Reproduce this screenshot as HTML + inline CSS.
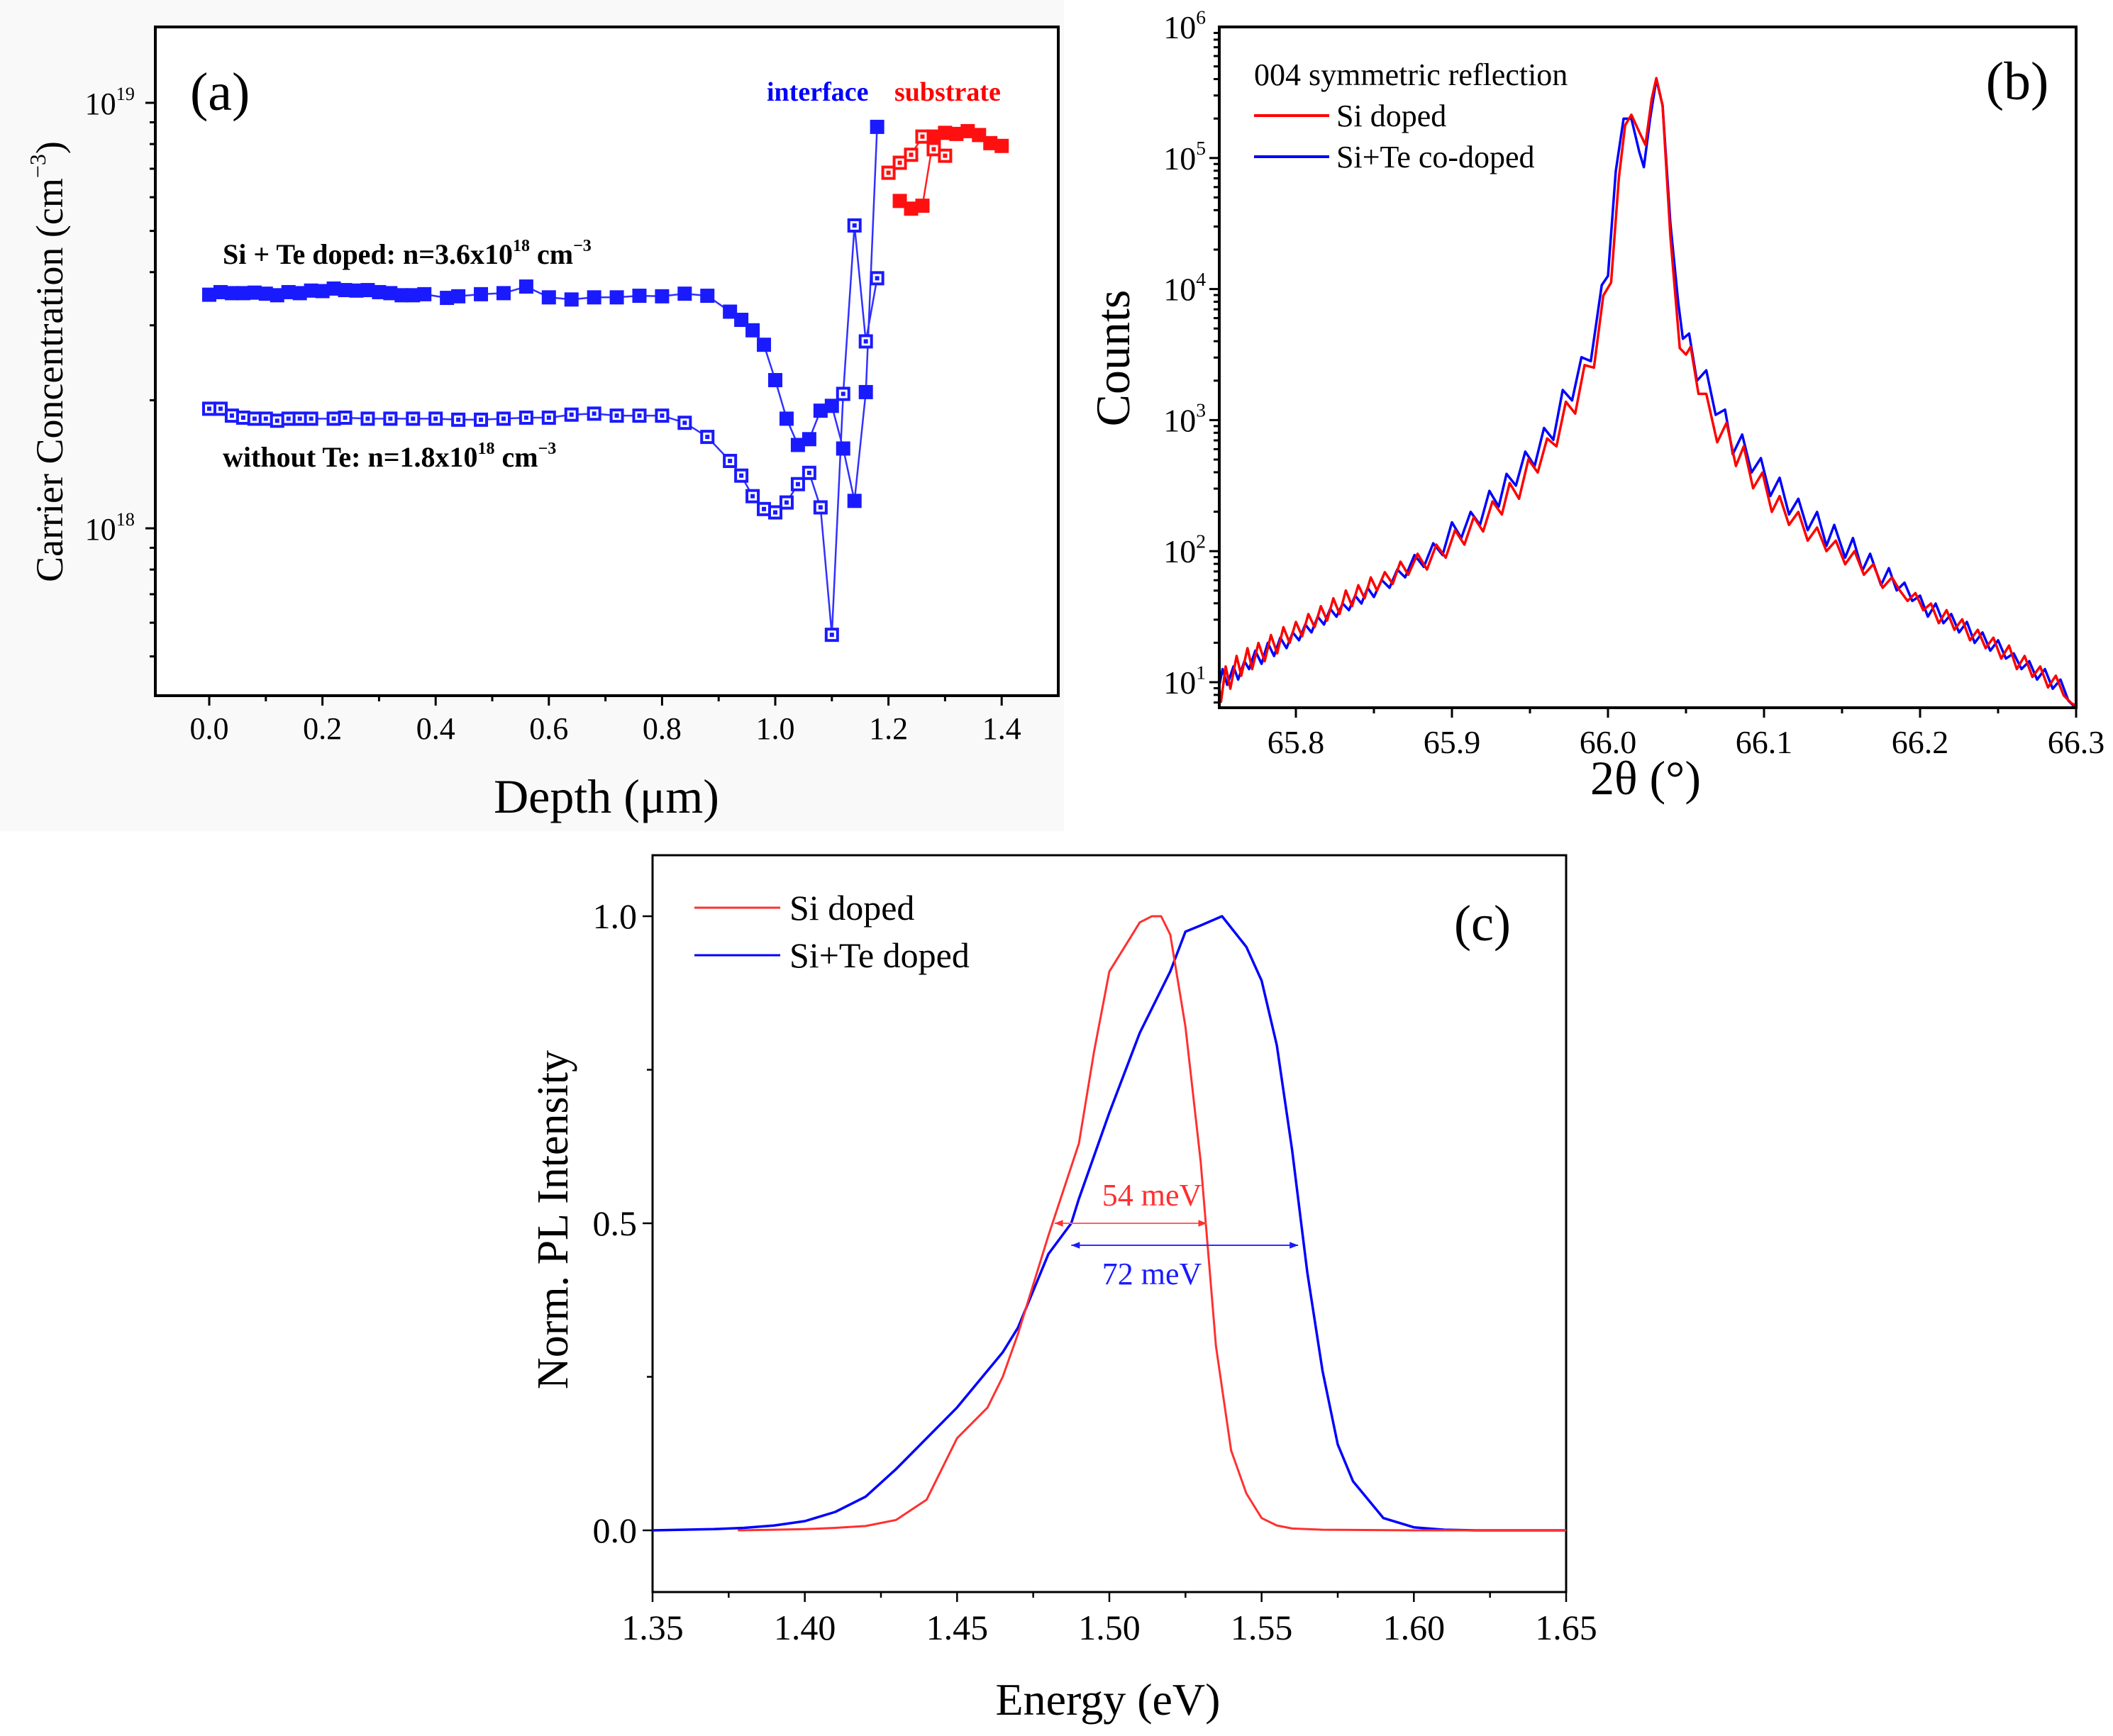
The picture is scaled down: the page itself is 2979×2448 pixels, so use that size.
<!DOCTYPE html>
<html><head><meta charset="utf-8"><style>
html,body{margin:0;padding:0;background:#fff;}
svg{display:block;font-family:"Liberation Serif",serif;}
svg text, svg tspan{font-family:"Liberation Serif","Times New Roman",serif;}
</style></head><body>
<svg id="chart" width="2979" height="2448" viewBox="0 0 2979 2448" xmlns="http://www.w3.org/2000/svg">
<rect x="0" y="0" width="2979" height="2448" fill="#fff"/>
<rect x="0" y="0" width="1500" height="1172" fill="#f9f9f9"/>
</svg>
<script>
// ---------- Panel (a) data (carrier concentration, units of 1e18 cm^-3) ----------
const aFilledBlueX = [0,0.02,0.04,0.06,0.08,0.1,0.12,0.14,0.16,0.18,0.2,0.22,0.24,0.26,0.28,0.3,0.32,0.34,0.36,0.38,0.42,0.44,0.48,0.52,0.56,0.6,0.64,0.68,0.72,0.76,0.8,0.84,0.88,0.92,0.94,0.96,0.98,1.0,1.02,1.04,1.06,1.08,1.1,1.12,1.14,1.16,1.18];
const aFilledBlueY = [3.54,3.59,3.57,3.57,3.58,3.56,3.53,3.59,3.57,3.62,3.61,3.66,3.63,3.62,3.63,3.59,3.57,3.53,3.53,3.55,3.48,3.51,3.55,3.57,3.70,3.49,3.45,3.49,3.49,3.52,3.51,3.56,3.52,3.23,3.09,2.92,2.70,2.23,1.81,1.57,1.62,1.89,1.94,1.54,1.16,2.09,8.78];
const aFilledRedX = [1.22,1.24,1.26,1.28,1.3,1.32,1.34,1.36,1.38,1.4];
const aFilledRedY = [5.88,5.64,5.73,8.33,8.50,8.45,8.58,8.40,8.04,7.92];
const aOpenBlueX = [0,0.02,0.04,0.06,0.08,0.1,0.12,0.14,0.16,0.18,0.22,0.24,0.28,0.32,0.36,0.4,0.44,0.48,0.52,0.56,0.6,0.64,0.68,0.72,0.76,0.8,0.84,0.88,0.92,0.94,0.96,0.98,1.0,1.02,1.04,1.06,1.08,1.1,1.12,1.14,1.16,1.18];
const aOpenBlueY = [1.91,1.91,1.84,1.82,1.81,1.81,1.79,1.81,1.81,1.81,1.81,1.82,1.81,1.81,1.81,1.81,1.80,1.80,1.81,1.82,1.82,1.85,1.86,1.84,1.84,1.84,1.77,1.64,1.44,1.33,1.19,1.11,1.09,1.15,1.27,1.35,1.12,0.562,2.07,5.15,2.75,3.87];
const aOpenRedX = [1.2,1.22,1.24,1.26,1.28,1.3];
const aOpenRedY = [6.85,7.23,7.55,8.33,7.78,7.51];
const aXTicks = [0,0.2,0.4,0.6,0.8,1.0,1.2,1.4];
const aXTickLabels = ["0.0","0.2","0.4","0.6","0.8","1.0","1.2","1.4"];

// ---------- Panel (b) data (2theta, log10 counts) ----------
const bBlueX = [65.75,65.753,65.756,65.76,65.763,65.767,65.77,65.774,65.778,65.782,65.786,65.79,65.794,65.798,65.802,65.806,65.81,65.814,65.818,65.822,65.826,65.83,65.834,65.838,65.842,65.846,65.85,65.855,65.86,65.865,65.87,65.876,65.882,65.888,65.894,65.9,65.906,65.912,65.918,65.924,65.93,65.935,65.941,65.947,65.953,65.959,65.965,65.971,65.977,65.983,65.989,65.996,66.0,66.005,66.01,66.015,66.02,66.023,66.027,66.031,66.035,66.04,66.045,66.048,66.052,66.057,66.063,66.069,66.075,66.08,66.086,66.092,66.098,66.104,66.11,66.116,66.122,66.128,66.134,66.14,66.145,66.152,66.157,66.163,66.168,66.175,66.18,66.185,66.19,66.195,66.2,66.205,66.21,66.215,66.22,66.225,66.23,66.235,66.24,66.245,66.25,66.255,66.26,66.265,66.27,66.275,66.28,66.285,66.29,66.295,66.3];
const bBlueY = [0.92,1.1,0.98,1.12,1.02,1.16,1.1,1.24,1.14,1.3,1.2,1.34,1.26,1.38,1.32,1.44,1.38,1.5,1.44,1.56,1.5,1.6,1.55,1.66,1.6,1.72,1.65,1.78,1.72,1.86,1.8,1.97,1.88,2.06,1.97,2.22,2.1,2.3,2.2,2.46,2.34,2.59,2.5,2.76,2.65,2.94,2.85,3.23,3.15,3.48,3.45,4.03,4.1,4.9,5.3,5.3,5.05,4.93,5.3,5.6,5.4,4.5,3.9,3.62,3.66,3.3,3.38,3.04,3.08,2.74,2.89,2.6,2.71,2.42,2.56,2.28,2.4,2.16,2.3,2.04,2.2,1.95,2.1,1.85,1.98,1.74,1.87,1.7,1.76,1.62,1.66,1.5,1.6,1.45,1.52,1.38,1.46,1.3,1.38,1.24,1.32,1.18,1.22,1.1,1.16,1.02,1.1,0.95,1.02,0.86,0.8];
const bRedX = [65.75,65.752,65.755,65.758,65.762,65.765,65.769,65.772,65.776,65.78,65.784,65.788,65.792,65.796,65.8,65.804,65.808,65.812,65.816,65.82,65.824,65.828,65.832,65.836,65.84,65.844,65.848,65.852,65.857,65.862,65.867,65.872,65.878,65.884,65.89,65.896,65.902,65.908,65.914,65.92,65.926,65.932,65.937,65.943,65.949,65.955,65.961,65.967,65.973,65.979,65.985,65.991,65.997,66.002,66.007,66.011,66.015,66.02,66.024,66.028,66.031,66.035,66.04,66.046,66.05,66.053,66.058,66.063,66.07,66.076,66.082,66.087,66.093,66.099,66.105,66.11,66.116,66.122,66.128,66.134,66.14,66.146,66.152,66.158,66.164,66.17,66.176,66.182,66.187,66.192,66.197,66.202,66.207,66.212,66.217,66.222,66.227,66.232,66.237,66.242,66.247,66.252,66.257,66.262,66.267,66.272,66.277,66.282,66.287,66.292,66.297,66.3];
const bRedY = [1.05,0.85,1.12,0.95,1.2,1.05,1.26,1.1,1.3,1.16,1.36,1.22,1.42,1.3,1.46,1.35,1.52,1.42,1.58,1.47,1.64,1.52,1.7,1.58,1.74,1.64,1.8,1.7,1.84,1.75,1.92,1.82,1.98,1.86,2.05,1.95,2.16,2.05,2.26,2.15,2.38,2.28,2.52,2.4,2.7,2.6,2.86,2.8,3.14,3.05,3.42,3.4,3.95,4.05,4.85,5.25,5.33,5.2,5.1,5.45,5.61,5.4,4.4,3.55,3.5,3.56,3.2,3.2,2.83,2.98,2.65,2.8,2.48,2.6,2.3,2.42,2.2,2.3,2.08,2.18,2.0,2.08,1.9,2.0,1.82,1.9,1.72,1.8,1.7,1.62,1.68,1.55,1.6,1.45,1.55,1.4,1.48,1.32,1.4,1.26,1.34,1.18,1.28,1.1,1.2,1.04,1.12,0.96,1.05,0.9,0.84,0.82];
const bXTicks = [65.8,65.9,66.0,66.1,66.2,66.3];
const bXTickLabels = ["65.8","65.9","66.0","66.1","66.2","66.3"];
const bYDecades = [1,2,3,4,5,6];

// ---------- Panel (c) data (energy eV, normalized PL) ----------
const cRedX = [1.378,1.39,1.40,1.41,1.42,1.43,1.44,1.45,1.46,1.465,1.47,1.48,1.49,1.495,1.50,1.505,1.51,1.514,1.517,1.52,1.525,1.53,1.535,1.54,1.545,1.55,1.555,1.56,1.57,1.60,1.65];
const cRedY = [0,0.001,0.002,0.004,0.007,0.017,0.05,0.15,0.2,0.25,0.32,0.48,0.63,0.78,0.91,0.95,0.99,1.0,1.0,0.97,0.82,0.60,0.30,0.13,0.06,0.02,0.008,0.003,0.001,0,0];
const cBlueX = [1.35,1.37,1.38,1.39,1.40,1.41,1.42,1.43,1.44,1.45,1.455,1.465,1.47,1.48,1.4875,1.49,1.50,1.51,1.52,1.525,1.53,1.537,1.545,1.55,1.555,1.56,1.565,1.57,1.575,1.58,1.59,1.60,1.61,1.62,1.65];
const cBlueY = [0,0.002,0.004,0.008,0.015,0.03,0.055,0.1,0.15,0.2,0.23,0.29,0.33,0.45,0.5,0.54,0.68,0.81,0.91,0.975,0.985,1.0,0.95,0.895,0.79,0.62,0.42,0.26,0.14,0.08,0.02,0.005,0.001,0,0];
const cXTicks = [1.35,1.40,1.45,1.50,1.55,1.60,1.65];
const cXTickLabels = ["1.35","1.40","1.45","1.50","1.55","1.60","1.65"];
const cYTicks = [0,0.5,1.0];
const cYTickLabels = ["0.0","0.5","1.0"];

const NS = "http://www.w3.org/2000/svg";
const svg = document.getElementById('chart');
function mk(tag, attrs, parent){
  const e = document.createElementNS(NS, tag);
  for (const k in attrs) e.setAttribute(k, attrs[k]);
  (parent || svg).appendChild(e);
  return e;
}
function txt(str, x, y, size, anchor, fill, weight){
  const t = mk('text', {x:x, y:y, 'font-size':size, 'text-anchor':anchor||'start', fill:fill||'#000', 'font-weight':weight||'normal'});
  t.textContent = str;
  return t;
}
function supTxt(parts, x, y, size, anchor, fill, weight){
  const t = mk('text', {x:x, y:y, 'font-size':size, 'text-anchor':anchor||'start', fill:fill||'#000', 'font-weight':weight||'normal'});
  parts.forEach(p=>{
    const s = mk('tspan', {}, t);
    if (p[1]===1){ s.setAttribute('font-size', size*0.6); s.setAttribute('dy', -size*0.45); }
    else if (p[1]===2){ s.setAttribute('dy', size*0.45); }
    s.textContent = p[0];
  });
  return t;
}
function poly(xs, ys, fx, fy, stroke, w){
  let d = '';
  for (let i=0;i<xs.length;i++) d += (i?'L':'M') + fx(xs[i]).toFixed(1) + ',' + fy(ys[i]).toFixed(1);
  return mk('path', {d:d, fill:'none', stroke:stroke, 'stroke-width':w, 'stroke-linejoin':'round'});
}

// ================= Panel (a) =================
const aL=219, aR=1492, aT=38, aB=981;
const ax = x => 295 + x/0.2*159.6;
const ay = v => 745 - Math.log10(v)*600;
let fa = mk('rect',{x:aL,y:aT,width:aR-aL,height:aB-aT,fill:'#fff',stroke:'#000','stroke-width':4});


for (let x=0; x<=1.4001; x+=0.1){
  const major = Math.abs(Math.round(x*10)%2)===0;
  const t = mk('line',{x1:ax(x),x2:ax(x),y1:aB,y2:aB+(major?14:8),stroke:'#000','stroke-width':3});
  
  
}
aXTicks.forEach((v,i)=>{
  const t = txt(aXTickLabels[i], ax(v), 1042, 44, 'middle');
  
  
});
[0.1,1,10].forEach(dec=>{
  for (let m=1;m<=9;m++){
    const v = dec*m; const y = ay(v);
    if (y<aT||y>aB) continue;
    const t = mk('line',{x1:aL,x2:aL-(m===1?14:8),y1:y,y2:y,stroke:'#000','stroke-width':3});
    
    
  }
});
let l19 = supTxt([['10',0],['19',1]], 190, ay(10)+16, 44, 'end');


let l18 = supTxt([['10',0],['18',1]], 190, ay(1)+16, 44, 'end');


let axt = supTxt([['Depth  (\u03BCm)',0]], 855, 1146, 68, 'middle');


const ayt = mk('g',{transform:'translate(88,510) rotate(-90)'});


{
  const t = mk('text',{x:0,y:0,'font-size':54,'text-anchor':'middle'},ayt);
  const s1 = mk('tspan',{},t); s1.textContent='Carrier Concentration  (cm';
  const s2 = mk('tspan',{'font-size':32,dy:-24},t); s2.textContent='\u22123';
  const s3 = mk('tspan',{dy:24},t); s3.textContent=')';
}
let alab = txt('(a)', 268, 155, 76, 'start');


let it = txt('interface', 1081, 142, 38, 'start', '#0000ff', 'bold');


let st = txt('substrate', 1261, 142, 38, 'start', '#ff0000', 'bold');


let sit = supTxt([['Si + Te doped: n=3.6x10',0],['18',1],[' cm',2],['\u22123',1]], 314, 372, 40, 'start', '#000', 'bold');


let wot = supTxt([['without Te: n=1.8x10',0],['18',1],[' cm',2],['\u22123',1]], 314, 658, 40, 'start', '#000', 'bold');



let p1 = poly(aFilledBlueX, aFilledBlueY, ax, ay, '#3030ff', 2.5);


let p2 = poly(aOpenBlueX, aOpenBlueY, ax, ay, '#3030ff', 2.5);


let p3 = poly(aFilledRedX, aFilledRedY, ax, ay, '#ff2020', 2.5);


let p4 = poly(aOpenRedX, aOpenRedY, ax, ay, '#ff2020', 2.5);


function filledMarkers(xs, ys, color, name){
  xs.forEach((x,i)=>{
    const r = mk('rect',{x:ax(x)-10,y:ay(ys[i])-10,width:20,height:20,fill:color});
    
    
  });
}
function openMarkers(xs, ys, color, name){
  xs.forEach((x,i)=>{
    const g = mk('g',{});
    
    
    mk('rect',{x:ax(x)-10,y:ay(ys[i])-10,width:20,height:20,fill:color},g);
    mk('rect',{x:ax(x)-6,y:ay(ys[i])-6,width:12,height:12,fill:'#fff'},g);
    mk('rect',{x:ax(x)-3,y:ay(ys[i])-3,width:6,height:6,fill:color},g);
  });
}
openMarkers(aOpenBlueX, aOpenBlueY, '#1a1aff', 'without-te-point');
openMarkers(aOpenRedX, aOpenRedY, '#ff1010', 'without-te-substrate-point');
filledMarkers(aFilledBlueX, aFilledBlueY, '#1a1aff', 'si-te-point');
filledMarkers(aFilledRedX, aFilledRedY, '#ff1010', 'si-te-substrate-point');

// ================= Panel (b) =================
const bL=1719, bR=2927, bT=38, bB=998;
const bx = x => 1717 + (x-65.75)/0.1*220;
const by = l => 962 - (l-1)*184.8;
const clip = mk('clipPath',{id:'bclip'});
mk('rect',{x:bL,y:bT,width:bR-bL,height:bB-bT},clip);
let fb = mk('rect',{x:bL,y:bT,width:bR-bL,height:bB-bT,fill:'#fff',stroke:'none'});


for (let x=65.8; x<=66.3001; x+=0.05){
  const major = Math.abs(Math.round(x*100)%10)===0;
  const t = mk('line',{x1:bx(x),x2:bx(x),y1:bB,y2:bB+(major?14:8),stroke:'#000','stroke-width':3});
  
  
}
bXTicks.forEach((v,i)=>{
  const t = txt(bXTickLabels[i], bx(v), 1062, 46, 'middle');
  
  
});
for (let d=0; d<=5; d++){
  for (let m=1;m<=9;m++){
    const y = by(d+Math.log10(m));
    if (y<bT-1||y>bB) continue;
    const t = mk('line',{x1:bL,x2:bL-(m===1?14:8),y1:y,y2:y,stroke:'#000','stroke-width':3});
    
    
  }
}
bYDecades.forEach(d=>{
  const t = supTxt([['10',0],[String(d),1]], 1700, by(d)+16, 46, 'end');
  
  
});
const gb = mk('g',{'clip-path':'url(#bclip)'});


let pb1 = poly(bBlueX, bBlueY, bx, by, '#0000ff', 3.5); gb.appendChild(pb1);


let pb2 = poly(bRedX, bRedY, bx, by, '#ff0000', 3.5); gb.appendChild(pb2);


let fb2 = mk('rect',{x:bL,y:bT,width:bR-bL,height:bB-bT,fill:'none',stroke:'#000','stroke-width':4});


let bxt = txt('2\u03B8  (\u00B0)', 2320, 1120, 68, 'middle');


let byt = mk('text',{x:0,y:0,'font-size':68,'text-anchor':'middle',transform:'translate(1592,505) rotate(-90)'});
byt.textContent='Counts';


let blt = txt('004 symmetric reflection', 1768, 120, 44, 'start');


let bl1 = mk('line',{x1:1768,x2:1874,y1:163,y2:163,stroke:'#ff0000','stroke-width':4});


let bl1t = txt('Si doped', 1884, 178, 44, 'start');


let bl2 = mk('line',{x1:1768,x2:1874,y1:221,y2:221,stroke:'#0000ff','stroke-width':4});


let bl2t = txt('Si+Te co-doped', 1884, 236, 44, 'start');


let blab = txt('(b)', 2844, 140, 76, 'middle');



// ================= Panel (c) =================
const cL=920, cR=2208, cT=1206, cB=2245;
const cx = e => cL + (e-1.35)/0.3*(cR-cL);
const cy = v => 2158 - v*866;
let fc = mk('rect',{x:cL,y:cT,width:cR-cL,height:cB-cT,fill:'#fff',stroke:'#000','stroke-width':3});


for (let e=1.35; e<=1.6501; e+=0.025){
  const major = Math.abs(Math.round(e*1000)%50)===0;
  const t = mk('line',{x1:cx(e),x2:cx(e),y1:cB,y2:cB+(major?14:8),stroke:'#000','stroke-width':2.5});
  
  
}
cXTicks.forEach((v,i)=>{
  const t = txt(cXTickLabels[i], cx(v), 2312, 50, 'middle');
  
  
});
[0,0.25,0.5,0.75,1.0].forEach(v=>{
  const major = (v*2)%1===0;
  const t = mk('line',{x1:cL,x2:cL-(major?14:8),y1:cy(v),y2:cy(v),stroke:'#000','stroke-width':2.5});
  
  
});
cYTicks.forEach((v,i)=>{
  const t = txt(cYTickLabels[i], 898, cy(v)+17, 50, 'end');
  
  
});
let pc1 = poly(cBlueX, cBlueY, cx, cy, '#0000ff', 3.5);


let pc2 = poly(cRedX, cRedY, cx, cy, '#ff3030', 3);


const defs = mk('defs',{});
function arrowMarker(id,color){
  const m = mk('marker',{id:id,viewBox:'0 0 10 10',refX:10,refY:5,markerWidth:6,markerHeight:6,orient:'auto-start-reverse'},defs);
  mk('path',{d:'M0,1L10,5L0,9Z',fill:color},m);
}
arrowMarker('ar','#ff3030'); arrowMarker('ab','#1a1aff');
let fr = mk('line',{x1:cx(1.482),x2:cx(1.532),y1:1725,y2:1725,stroke:'#ff6060','stroke-width':2,'marker-start':'url(#ar)','marker-end':'url(#ar)'});


let fbl = mk('line',{x1:cx(1.4875),x2:cx(1.562),y1:1756,y2:1756,stroke:'#3030ff','stroke-width':2,'marker-start':'url(#ab)','marker-end':'url(#ab)'});


let t54 = txt('54 meV', 1624, 1700, 44, 'middle', '#ff3030');


let t72 = txt('72 meV', 1624, 1811, 44, 'middle', '#1a1aff');


let cl1 = mk('line',{x1:979,x2:1100,y1:1280,y2:1280,stroke:'#ff3030','stroke-width':3});


let cl1t = txt('Si doped', 1113, 1297, 50, 'start');


let cl2 = mk('line',{x1:979,x2:1100,y1:1347,y2:1347,stroke:'#0000ff','stroke-width':3});


let cl2t = txt('Si+Te doped', 1113, 1364, 50, 'start');


let clab = txt('(c)', 2090, 1326, 72, 'middle');


let cxt = txt('Energy (eV)', 1562, 2418, 64, 'middle');


let cyt = mk('text',{x:0,y:0,'font-size':62,'text-anchor':'middle',transform:'translate(800,1720) rotate(-90)'});
cyt.textContent='Norm. PL Intensity';


</script>
</body></html>
